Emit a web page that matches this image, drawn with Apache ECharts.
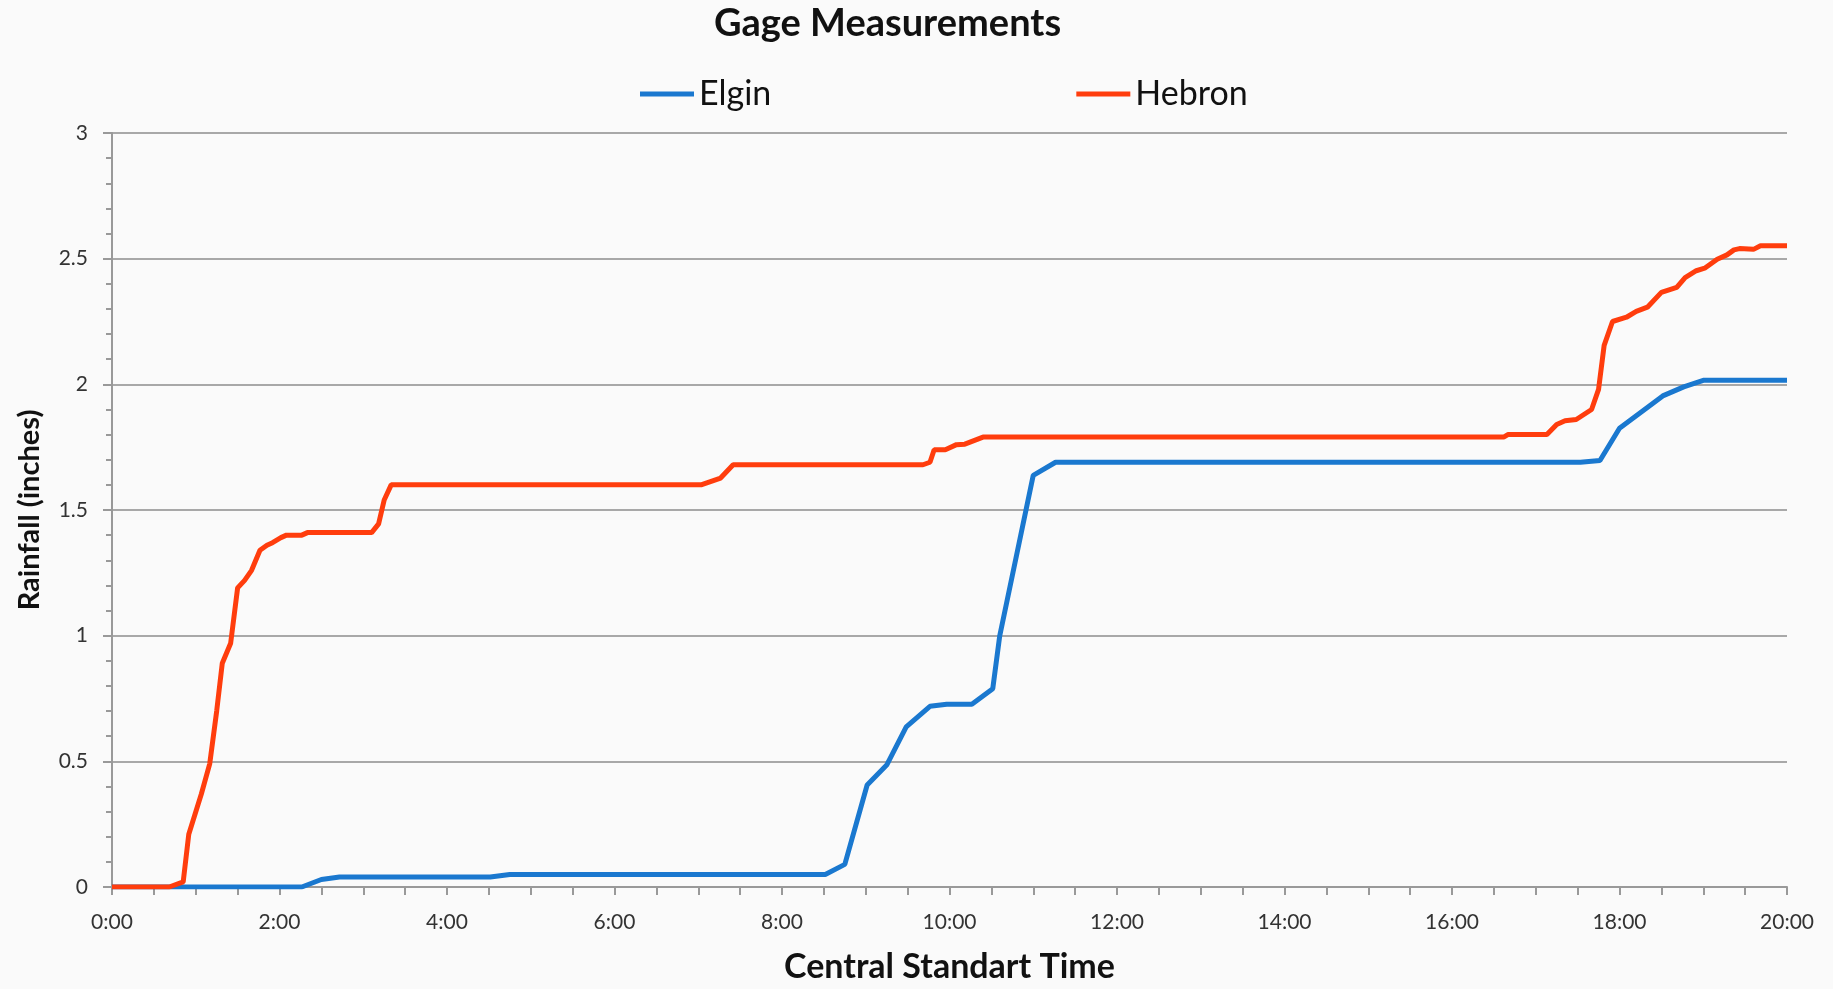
<!DOCTYPE html>
<html>
<head>
<meta charset="utf-8">
<script src="https://cdn.jsdelivr.net/npm/echarts@6/dist/echarts.min.js"></script>
<style>
html,body{margin:0;padding:0;background:#fafafa;}
#chart{width:1833px;height:989px;}
</style>
</head>
<body>
<div id="chart"></div>
<script>
// time in minutes after 0:00, rainfall in inches
const seriesNames = ['Elgin', 'Hebron'];
const tickLabels = ['0:00','2:00','4:00','6:00','8:00','10:00','12:00','14:00','16:00','18:00','20:00'];

const elginTime = [0, 136, 150, 163, 271, 285, 511, 525, 541, 555, 569, 586, 598, 616, 631, 636, 660, 676, 1052, 1066, 1080, 1111, 1126, 1140, 1200];
const elginRain = [0, 0, 0.03, 0.04, 0.04, 0.05, 0.05, 0.09, 0.406, 0.485, 0.637, 0.719, 0.727, 0.727, 0.789, 1.0, 1.638, 1.69, 1.69, 1.697, 1.825, 1.954, 1.99, 2.016, 2.016];

const hebronTime = [0, 41, 51, 55, 64, 70, 75, 79, 85, 90, 95, 100, 106, 111, 115, 121, 125, 136, 140, 186, 191, 195, 200, 422, 436, 445, 581, 586, 589, 597, 605, 611, 624, 997, 1000, 1028, 1035, 1041, 1049, 1060, 1065, 1069, 1075, 1085, 1092, 1100, 1110, 1121, 1127, 1135, 1141, 1150, 1157, 1162, 1166, 1176, 1181, 1200];
const hebronRain = [0, 0, 0.02, 0.21, 0.37, 0.49, 0.70, 0.89, 0.97, 1.19, 1.22, 1.26, 1.34, 1.36, 1.37, 1.39, 1.40, 1.40, 1.41, 1.41, 1.445, 1.54, 1.60, 1.60, 1.627, 1.68, 1.68, 1.69, 1.74, 1.74, 1.76, 1.762, 1.79, 1.79, 1.80, 1.80, 1.84, 1.855, 1.86, 1.90, 1.98, 2.155, 2.25, 2.267, 2.29, 2.307, 2.366, 2.386, 2.425, 2.452, 2.462, 2.498, 2.515, 2.535, 2.54, 2.537, 2.551, 2.551];

const pair = (t, v) => t.map((x, i) => [x, v[i]]);

const FONT = 'Lato';
const chart = echarts.init(document.getElementById('chart'), null, {renderer: 'canvas'});
chart.setOption({
  backgroundColor: '#fafafa',
  animation: false,
  textStyle: {fontFamily: FONT},
  title: {
    text: 'Gage Measurements',
    left: 709, top: 0,
    textStyle: {fontFamily: FONT, fontSize: 38, fontWeight: 'bold', color: '#111', letterSpacing: 2.8}
  },
  legend: {
    data: seriesNames,
    left: 635, top: 72,
    icon: 'rect',
    itemWidth: 54, itemHeight: 5,
    itemGap: 305,
    textStyle: {fontFamily: FONT, fontSize: 34, color: '#111', letterSpacing: 0.8}
  },
  grid: {left: 112, right: 46, top: 133, bottom: 98, containLabel: false},
  xAxis: {
    type: 'value', min: 0, max: 1200, interval: 120,
    name: 'Central Standart Time', nameLocation: 'middle', nameGap: 63,
    nameTextStyle: {fontFamily: FONT, fontSize: 34, fontWeight: 'bold', color: '#111', letterSpacing: 1.6},
    axisLine: {show: true, lineStyle: {color: '#999', width: 2}},
    axisTick: {show: true, length: 8, inside: false, lineStyle: {color: '#999', width: 2}},
    minorTick: {show: true, splitNumber: 4, length: 8, lineStyle: {color: '#999', width: 2}},
    splitLine: {show: false},
    axisLabel: {
      margin: 25, fontSize: 21, color: '#333', fontFamily: FONT,
      formatter: v => tickLabels[Math.round(v / 120)]
    }
  },
  yAxis: {
    type: 'value', min: 0, max: 3, interval: 0.5,
    name: 'Rainfall (inches)', nameLocation: 'middle', nameGap: 68, nameRotate: 90,
    nameTextStyle: {fontFamily: FONT, fontSize: 29, fontWeight: 'bold', color: '#111', letterSpacing: 0.6},
    axisLine: {show: true, lineStyle: {color: '#999', width: 2}},
    axisTick: {show: true, length: 9, lineStyle: {color: '#999', width: 2}},
    minorTick: {show: true, splitNumber: 5, length: 6, lineStyle: {color: '#999', width: 2}},
    splitLine: {show: true, lineStyle: {color: '#a8a8a8', width: 2}},
    axisLabel: {margin: 24, fontSize: 21, color: '#333', fontFamily: FONT}
  },
  series: [
    {
      name: 'Elgin', type: 'line', data: pair(elginTime, elginRain),
      showSymbol: false, symbol: 'none',
      lineStyle: {color: '#1A78CF', width: 5},
      itemStyle: {color: '#1A78CF'}
    },
    {
      name: 'Hebron', type: 'line', data: pair(hebronTime, hebronRain),
      showSymbol: false, symbol: 'none',
      lineStyle: {color: '#FF3D0D', width: 5},
      itemStyle: {color: '#FF3D0D'}
    }
  ]
});
</script>
</body>
</html>
